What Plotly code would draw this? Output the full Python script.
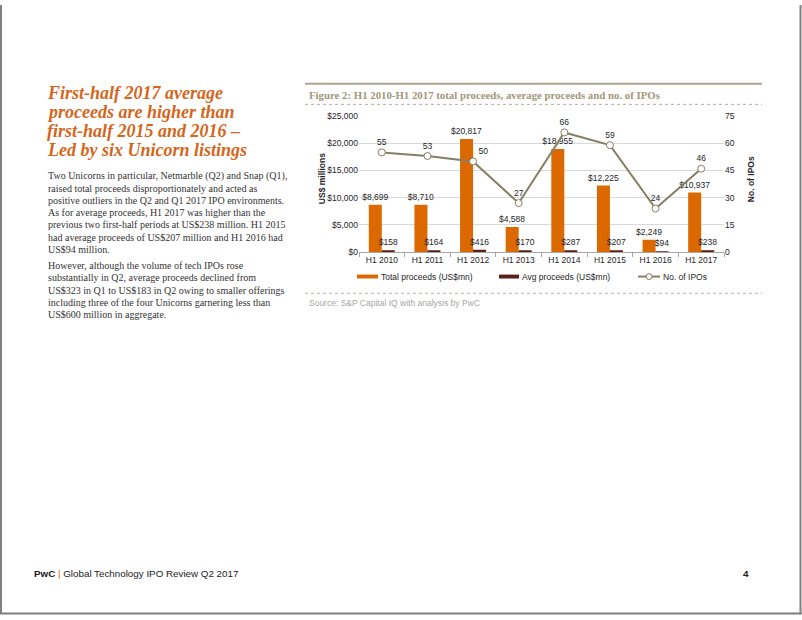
import plotly.graph_objects as go

# ---------------- data ----------------
categories = ["H1 2010", "H1 2011", "H1 2012", "H1 2013", "H1 2014", "H1 2015", "H1 2016", "H1 2017"]
total_proceeds = [8699, 8710, 20817, 4588, 18955, 12225, 2249, 10937]
avg_proceeds = [158, 164, 416, 170, 287, 207, 94, 238]
num_ipos = [55, 53, 50, 27, 66, 59, 24, 46]
ipo_label_pos = ["top center", "top center", "top right", "top center",
                 "top center", "top center", "top center", "top center"]

left_tick_vals = [0, 5000, 10000, 15000, 20000, 25000]
left_tick_text = ["$" + format(v, ",") for v in left_tick_vals]
right_tick_vals = [0, 15, 30, 45, 60, 75]

title_lines = ["First-half 2017 average",
               "proceeds are higher than",
               "first-half 2015 and 2016 \u2013",
               "Led by six Unicorn listings"]
para1_lines = ["Two Unicorns in particular, Netmarble (Q2) and Snap (Q1),",
               "raised total proceeds disproportionately and acted as",
               "positive outliers in the Q2 and Q1 2017 IPO environments.",
               "As for average proceeds, H1 2017 was higher than the",
               "previous two first-half periods at US$238 million. H1 2015",
               "had average proceeds of US$207 million and H1 2016 had",
               "US$94 million."]
para2_lines = ["However, although the volume of tech IPOs rose",
               "substantially in Q2, average proceeds declined from",
               "US$323 in Q1 to US$183 in Q2 owing to smaller offerings",
               "including three of the four Unicorns garnering less than",
               "US$600 million in aggregate."]

# ---------------- style ----------------
W, H = 802, 620
ORANGE = "#DC6900"
MAROON = "#5B1F16"
LINEC = "#857F66"
SANS = "Liberation Sans, Arial, sans-serif"
SERIF = "Liberation Serif, Georgia, serif"
LBL = dict(family=SANS, size=8.5, color="#262626")


def px(x):
    return x / W


def py(y):
    return 1 - y / H


fig = go.Figure()

fig.add_trace(go.Bar(
    x=categories, y=total_proceeds, name="Total proceeds (US$mn)",
    marker=dict(color=ORANGE, line=dict(width=0)),
    texttemplate="$%{y:,.0f}", textposition="outside", constraintext="none",
    textfont=LBL, cliponaxis=False, yaxis="y", offsetgroup="a"))

fig.add_trace(go.Bar(
    x=categories, y=avg_proceeds, name="Avg proceeds (US$mn)",
    marker=dict(color=MAROON, line=dict(width=0)),
    texttemplate="$%{y:,.0f}", textposition="outside", constraintext="none",
    textfont=LBL, cliponaxis=False, yaxis="y", offsetgroup="b"))

fig.add_trace(go.Scatter(
    x=categories, y=num_ipos, name="No. of IPOs", mode="lines+markers+text",
    line=dict(color=LINEC, width=2),
    marker=dict(symbol="circle", size=7, color="white", line=dict(color=LINEC, width=1)),
    text=[str(v) for v in num_ipos], textposition=ipo_label_pos,
    textfont=LBL, cliponaxis=False, yaxis="y2"))

fig.update_layout(
    width=W, height=H, autosize=False,
    margin=dict(l=0, r=0, t=0, b=0),
    paper_bgcolor="white", plot_bgcolor="white",
    showlegend=False,
    barmode="group", bargap=0.43, bargroupgap=0,
    xaxis=dict(domain=[px(359), px(724)], type="category",
               showgrid=False, showline=True, linecolor="#A6A6A6", linewidth=1,
               ticks="outside", tickson="boundaries", ticklen=4, tickcolor="#A6A6A6",
               tickfont=LBL, zeroline=False),
    yaxis=dict(domain=[py(251), py(113)], range=[0, 25000],
               tickmode="array", tickvals=left_tick_vals, ticktext=left_tick_text,
               showgrid=True, gridcolor="#D9D9D9", gridwidth=1,
               zeroline=False, showline=False, ticks="", tickfont=LBL),
    yaxis2=dict(overlaying="y", side="right", range=[0, 75],
                tickmode="array", tickvals=right_tick_vals, showgrid=False, zeroline=False,
                showline=False, ticks="", tickfont=LBL),
)

shapes = []
annotations = []

# page border
shapes.append(dict(type="line", xref="paper", yref="paper", x0=px(1), x1=px(1), y0=py(0), y1=py(619),
                   line=dict(color="#7F7F7F", width=2)))
shapes.append(dict(type="line", xref="paper", yref="paper", x0=px(800.5), x1=px(800.5), y0=py(0), y1=py(619),
                   line=dict(color="#7F7F7F", width=2)))
shapes.append(dict(type="line", xref="paper", yref="paper", x0=px(0), x1=px(802), y0=py(618.5), y1=py(618.5),
                   line=dict(color="#7F7F7F", width=2)))

# chart header rules
shapes.append(dict(type="line", xref="paper", yref="paper", x0=px(305), x1=px(762), y0=py(80), y1=py(80),
                   line=dict(color="#ADA58E", width=2)))
shapes.append(dict(type="line", xref="paper", yref="paper", x0=px(305), x1=px(762), y0=py(101), y1=py(101),
                   line=dict(color="#B8B0A0", width=1, dash="dot")))
shapes.append(dict(type="line", xref="paper", yref="paper", x0=px(305), x1=px(762), y0=py(293), y1=py(293),
                   line=dict(color="#B8B0A0", width=1, dash="dot")))

# chart title, source
annotations.append(dict(xref="paper", yref="paper", x=px(307), y=py(91), xanchor="left", yanchor="middle",
                        text="<b>Figure 2: H1 2010-H1 2017 total proceeds, average proceeds and no. of IPOs</b>",
                        showarrow=False, font=dict(family=SERIF, size=10.8, color="#A0977A")))
annotations.append(dict(xref="paper", yref="paper", x=px(307), y=py(303), xanchor="left", yanchor="middle",
                        text="Source: S&P Capital IQ with analysis by PwC",
                        showarrow=False, font=dict(family=SANS, size=8.5, color="#A6A6A6")))

# axis titles
annotations.append(dict(xref="paper", yref="paper", x=px(322), y=py(177), xanchor="center", yanchor="middle",
                        text="<b>US$ millions</b>", textangle=-90, showarrow=False, font=LBL))
annotations.append(dict(xref="paper", yref="paper", x=px(751), y=py(177), xanchor="center", yanchor="middle",
                        text="<b>No. of IPOs</b>", textangle=-90, showarrow=False, font=LBL))

# manual legend
leg_y = py(276)
shapes.append(dict(type="rect", xref="paper", yref="paper", x0=px(357), x1=px(378), y0=py(278), y1=py(274),
                   fillcolor=ORANGE, line=dict(width=0)))
annotations.append(dict(xref="paper", yref="paper", x=px(379), y=leg_y, xanchor="left", yanchor="middle",
                        text="Total proceeds (US$mn)", showarrow=False, font=LBL))
shapes.append(dict(type="rect", xref="paper", yref="paper", x0=px(499), x1=px(519), y0=py(278), y1=py(274),
                   fillcolor=MAROON, line=dict(width=0)))
annotations.append(dict(xref="paper", yref="paper", x=px(520), y=leg_y, xanchor="left", yanchor="middle",
                        text="Avg proceeds (US$mn)", showarrow=False, font=LBL))
shapes.append(dict(type="line", xref="paper", yref="paper", x0=px(638), x1=px(660), y0=leg_y, y1=leg_y,
                   line=dict(color=LINEC, width=2)))
shapes.append(dict(type="circle", xref="paper", yref="paper", x0=px(646), x1=px(652), y0=py(279), y1=py(273),
                   fillcolor="white", line=dict(color=LINEC, width=1)))
annotations.append(dict(xref="paper", yref="paper", x=px(661), y=leg_y, xanchor="left", yanchor="middle",
                        text="No. of IPOs", showarrow=False, font=LBL))

# left text column
for i, line in enumerate(title_lines):
    annotations.append(dict(xref="paper", yref="paper", x=px(46), y=py(89 + 19.6 * i),
                            xanchor="left", yanchor="middle", text="<b><i>" + line + "</i></b>",
                            showarrow=False, borderpad=0,
                            font=dict(family=SERIF, size=18, color="#D4661C")))
for i, line in enumerate(para1_lines):
    annotations.append(dict(xref="paper", yref="paper", x=px(47), y=py(174 + 12.4 * i),
                            xanchor="left", yanchor="middle", text=line,
                            showarrow=False, borderpad=0,
                            font=dict(family=SERIF, size=10, color="#333333")))
for i, line in enumerate(para2_lines):
    annotations.append(dict(xref="paper", yref="paper", x=px(47), y=py(265 + 12.4 * i),
                            xanchor="left", yanchor="middle", text=line,
                            showarrow=False, borderpad=0,
                            font=dict(family=SERIF, size=10, color="#333333")))

# footer
annotations.append(dict(xref="paper", yref="paper", x=px(32), y=py(578), xanchor="left", yanchor="middle",
                        text="<b>PwC</b> <span style='color:#DC6900'>|</span> Global Technology IPO Review Q2 2017",
                        showarrow=False, font=dict(family=SANS, size=9.8, color="#1A1A1A")))
annotations.append(dict(xref="paper", yref="paper", x=px(751), y=py(578), xanchor="right", yanchor="middle",
                        text="<b>4</b>", showarrow=False, font=dict(family=SANS, size=9.8, color="#1A1A1A")))

fig.update_layout(shapes=shapes, annotations=annotations)

fig.write_html("out.html", config={"displayModeBar": False},
               post_script="document.body.style.margin='0';document.body.style.overflow='hidden';")
